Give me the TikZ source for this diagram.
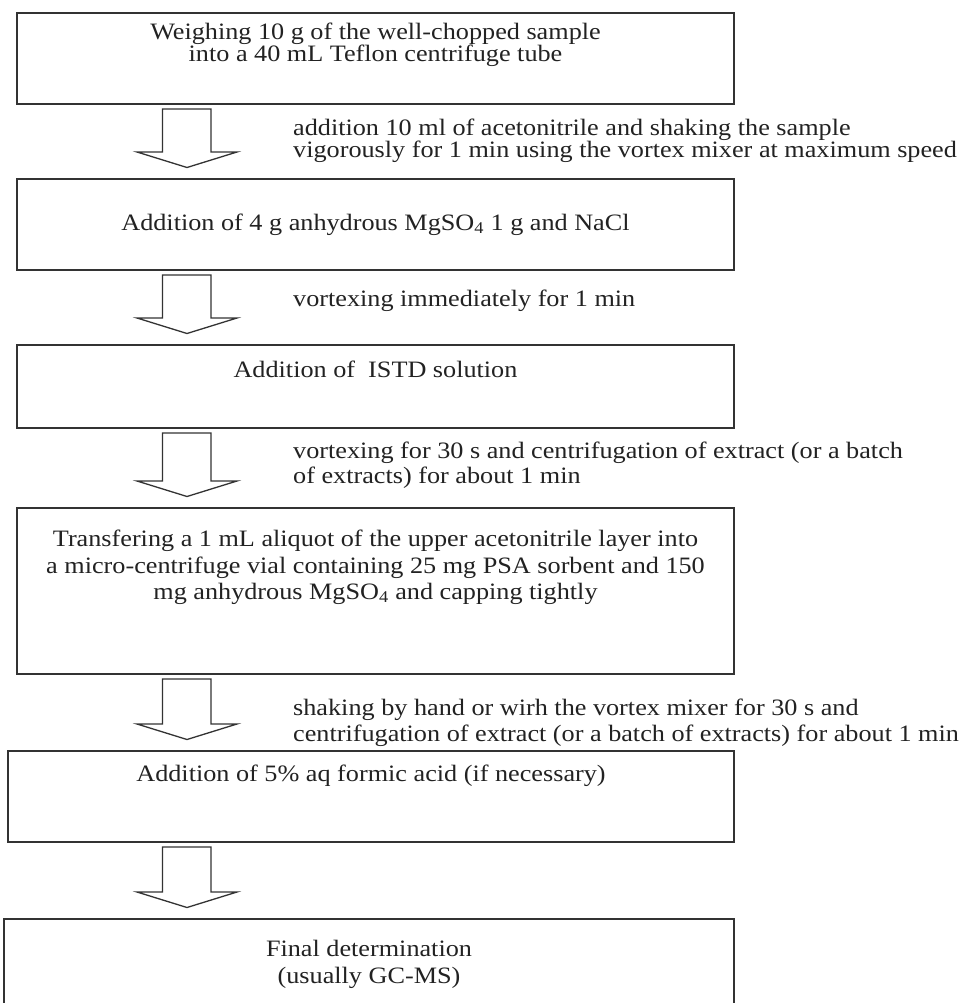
\documentclass[tikz,border=0pt]{standalone}
\usepackage{fontspec}
\setmainfont{Liberation Serif}
\usepackage{graphicx}
\usetikzlibrary{calc}
\definecolor{ink}{HTML}{222222}
\definecolor{edge}{HTML}{333333}
\newcommand\sx[1]{\scalebox{1.115}[1]{#1}}
\newcommand\fatarrow[2]{%
  \draw[fat] let \p1=(#1.south), \p2=(#2.north) in
    (162.5pt,\y1-5pt) -- (162.5pt,\y2+27pt) -- (137pt,\y2+27pt) --
    (187pt,\y2+11.5pt) -- (237pt,\y2+27pt) -- (211pt,\y2+27pt) --
    (211pt,\y1-5pt) -- cycle;}
\begin{document}
\begin{tikzpicture}[x=1pt,y=-1pt,
  font=\fontsize{23.5}{24}\selectfont,
  box/.style={draw=edge, line width=1.6pt, rectangle, inner sep=0pt, outer sep=0pt},
  txt/.style={anchor=base, inner sep=0pt, text=ink},
  lbl/.style={anchor=base west, inner sep=0pt, text=ink},
  fat/.style={draw=edge, line width=1.3pt, fill=white, line join=miter}]
\useasboundingbox (0,0) rectangle (968,1003);
\clip (0,0) rectangle (968,1003);
\fill[white] (0,0) rectangle (968,1003);

% boxes
\node[box, minimum width=717pt, minimum height=91pt] (b1) at (375.5,58.5) {};
\node[box, minimum width=717pt, minimum height=91pt] (b2) at (375.5,224.5) {};
\node[box, minimum width=717pt, minimum height=83pt] (b3) at (375.5,386.5) {};
\node[box, minimum width=717pt, minimum height=166pt] (b4) at (375.5,591) {};
\node[box, minimum width=726pt, minimum height=91pt] (b5) at (371,796.5) {};
\node[box, minimum width=730pt, minimum height=96pt] (b6) at (369,967) {};

% box texts
\node[txt] (t1a) at (375.5,40) {\sx{Weighing 10 g of the well-chopped sample}};
\node[txt] (t1b) at (375.5,62) {\sx{into a 40 mL Teflon centrifuge tube}};
\node[txt] (t2) at (375.5,230) {\sx{Addition of 4 g anhydrous MgSO\textsubscript{4} 1 g and NaCl}};
\node[txt] (t3) at (375.5,377) {\sx{Addition of\ \ ISTD solution}};
\node[txt] (t4a) at (375.5,546) {\sx{Transfering a 1 mL aliquot of the upper acetonitrile layer into}};
\node[txt] (t4b) at (375.5,573) {\sx{a micro-centrifuge vial containing 25 mg PSA sorbent and 150}};
\node[txt] (t4c) at (375.5,599) {\sx{mg anhydrous MgSO\textsubscript{4} and capping tightly}};
\node[txt] (t5) at (371,781) {\sx{Addition of 5\% aq formic acid (if necessary)}};
\node[txt] (t6a) at (369,956) {\sx{Final determination}};
\node[txt] (t6b) at (369,983) {\sx{(usually GC-MS)}};

% step labels
\node[lbl] (l1a) at (293,136) {\sx{addition 10 ml of acetonitrile and shaking the sample}};
\node[lbl] (l1b) at (293,158) {\sx{vigorously for 1 min using the vortex mixer at maximum speed}};
\node[lbl] (l2) at (293,306) {\sx{vortexing immediately for 1 min}};
\node[lbl] (l3a) at (293,458) {\sx{vortexing for 30 s and centrifugation of extract (or a batch}};
\node[lbl] (l3b) at (293,483) {\sx{of extracts) for about 1 min}};
\node[lbl] (l4a) at (293,715) {\sx{shaking by hand or wirh the vortex mixer for 30 s and}};
\node[lbl] (l4b) at (293,741) {\sx{centrifugation of extract (or a batch of extracts) for about 1 min}};

% block arrows
\fatarrow{b1}{b2}
\fatarrow{b2}{b3}
\fatarrow{b3}{b4}
\fatarrow{b4}{b5}
\fatarrow{b5}{b6}
\end{tikzpicture}
\end{document}
